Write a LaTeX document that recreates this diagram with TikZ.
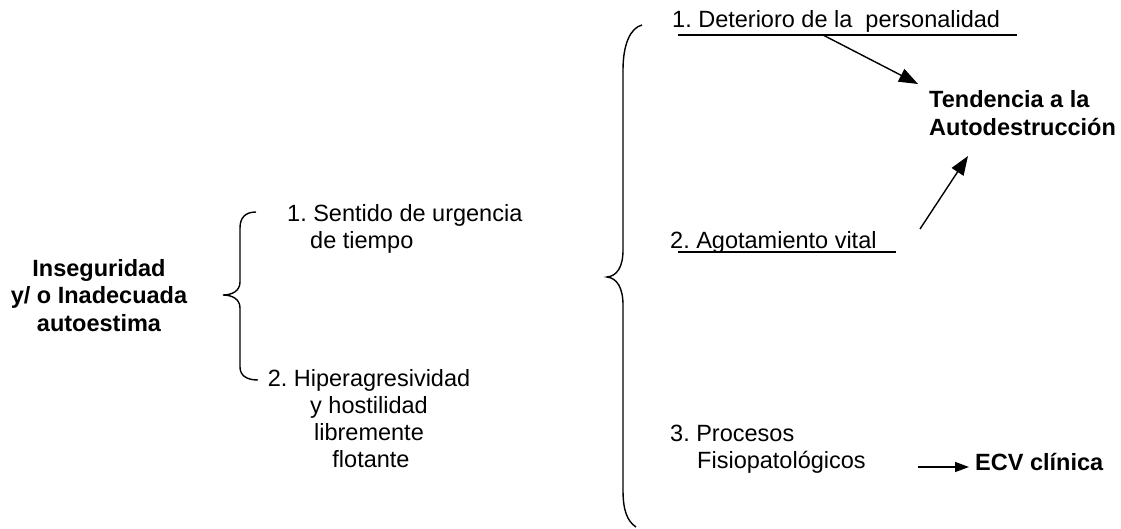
\documentclass[tikz,border=0pt]{standalone}
\usepackage{fontspec}
\setmainfont{Liberation Sans}
\usetikzlibrary{arrows.meta}
\frenchspacing
\begin{document}
\begin{tikzpicture}[x=1pt,y=-1pt,
  txt/.style={font=\fontsize{23.5}{27}\selectfont\frenchspacing, inner sep=0pt},
  bld/.style={font=\fontsize{23.5}{27.5}\selectfont\bfseries\frenchspacing, inner sep=0pt},
  ln/.style={line width=1.4pt},
  bigarrow/.style={ln,-{Triangle[length=19pt,width=14pt]}},
  smallarrow/.style={ln,-{Triangle[length=14pt,width=10pt]}}]
\useasboundingbox (0,0) rectangle (1121,528);
% texts (base anchor of a multi-line node = its last line)
\node[bld,align=center,anchor=base] (ins) at (99,331) {Inseguridad\\y/ o Inadecuada\\autoestima};
\node[txt,align=left,anchor=base west] (s1) at (287,248) {1. Sentido de urgencia\\\hspace*{23pt}de tiempo};
\node[txt,align=center,anchor=base] (h2) at (369,467) {2. Hiperagresividad\\y hostilidad\\libremente\\\hspace*{4pt}flotante};
\node[txt,anchor=base west] (d1) at (672,27) {1. Deterioro de la\ \ personalidad};
\node[bld,align=left,anchor=base west] (td) at (929,135) {Tendencia a la\\Autodestrucción};
\node[txt,anchor=base west] (a2) at (670,248) {2. Agotamiento vital};
\node[txt,align=left,anchor=base west] (p3) at (670,468) {3. Procesos\\\hspace*{27pt}Fisiopatológicos};
\node[bld,anchor=base west] (ecv) at (975,470) {ECV clínica};
% underlines
\coordinate (u1a) at (678,35);
\coordinate (u1b) at (1017,35);
\coordinate (u1m) at (823,35);
\coordinate (u2a) at (678,252);
\coordinate (u2b) at (896,252);
\draw[ln] (u1a) -- (u1b);
\draw[ln] (u2a) -- (u2b);
% arrows
\coordinate (t1) at (918,84);
\coordinate (s2) at (920,229);
\coordinate (t2) at (968,156);
\coordinate (e0) at (918,467);
\coordinate (e1) at (969,467);
\draw[bigarrow] (u1m) -- (t1);
\draw[bigarrow] (s2) -- (t2);
\draw[smallarrow] (e0) -- (e1);
% small brace
\draw[ln] (256,212) .. controls (245,212) and (240,218) .. (240,228)
  -- (240,282) .. controls (240,291) and (232,295) .. (223,295)
  .. controls (232,295) and (240,299) .. (240,308)
  -- (240,367) .. controls (240,375) and (246,380) .. (258,380);
% big brace
\draw[ln] (642,25) .. controls (630,28) and (623,45) .. (623,70)
  -- (623,250) .. controls (623,267) and (617,276) .. (607,277)
  .. controls (617,278) and (623,288) .. (623,305)
  -- (623,490) .. controls (623,510) and (627,521) .. (636,527);
\end{tikzpicture}
\end{document}
